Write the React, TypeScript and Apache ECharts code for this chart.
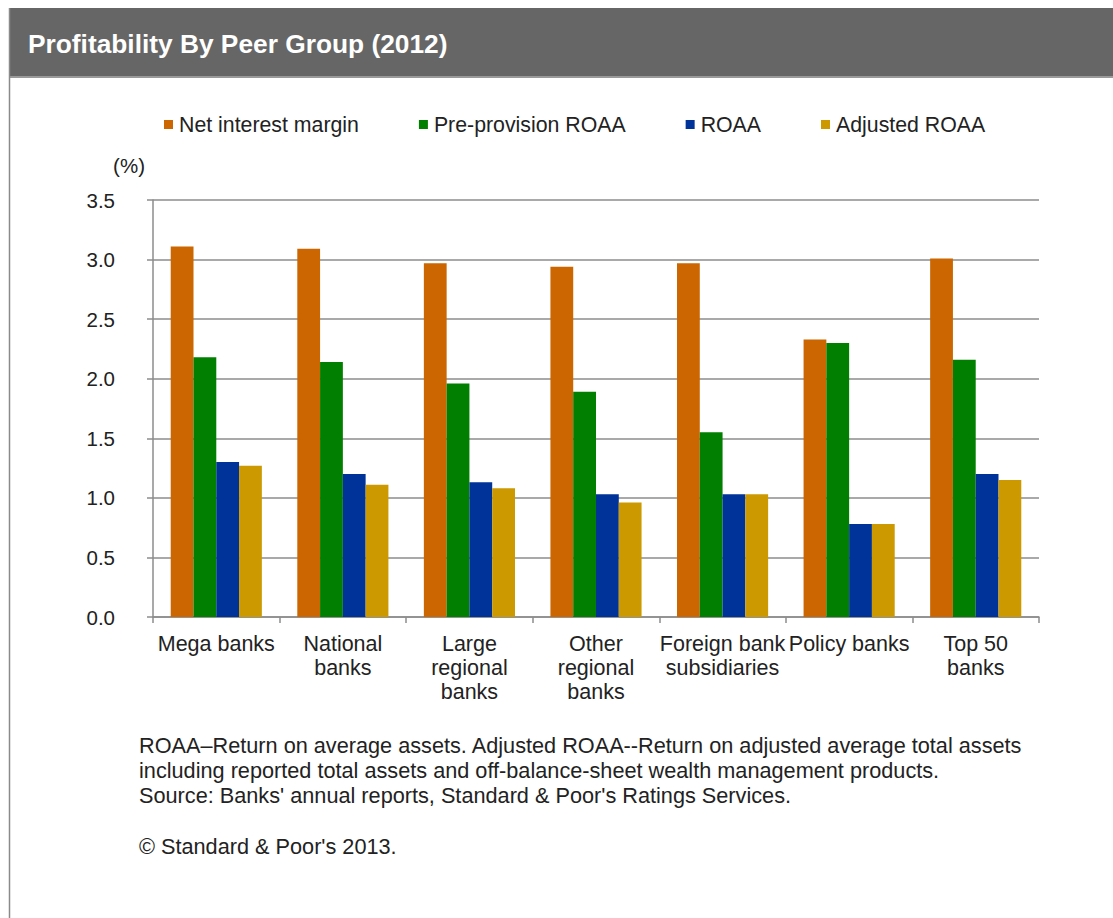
import React, { useEffect, useRef } from "react";
import * as echarts from "echarts";

// Peer groups along the x axis
const categories = [
  "Mega banks",
  "National\nbanks",
  "Large\nregional\nbanks",
  "Other\nregional\nbanks",
  "Foreign bank\nsubsidiaries",
  "Policy banks",
  "Top 50\nbanks",
];

// Ratios in percent, 2012
const netInterestMargin = [3.11, 3.09, 2.97, 2.94, 2.97, 2.33, 3.01];
const preProvisionRoaa = [2.18, 2.14, 1.96, 1.89, 1.55, 2.3, 2.16];
const roaa = [1.3, 1.2, 1.13, 1.03, 1.03, 0.78, 1.2];
const adjustedRoaa = [1.27, 1.11, 1.08, 0.96, 1.03, 0.78, 1.15];

const seriesNames = ["Net interest margin", "Pre-provision ROAA", "ROAA", "Adjusted ROAA"];
const seriesColors = ["#CC6600", "#007F00", "#003399", "#CC9900"];

const title = "Profitability By Peer Group (2012)";
const footnotes = [
  "ROAA\u2013Return on average assets. Adjusted ROAA--Return on adjusted average total assets",
  "including reported total assets and off-balance-sheet wealth management products.",
  "Source: Banks' annual reports, Standard & Poor's Ratings Services.",
];
const copyright = "\u00A9 Standard & Poor's 2013.";

const FONT = "'Liberation Sans', Arial, sans-serif";

export default function App() {
  const ref = useRef<HTMLDivElement>(null);

  useEffect(() => {
    if (!ref.current) return;
    const chart = echarts.init(ref.current, null, { renderer: "svg" });
    const values = [netInterestMargin, preProvisionRoaa, roaa, adjustedRoaa];

    chart.setOption({
      animation: false,
      backgroundColor: "#ffffff",
      textStyle: { fontFamily: FONT },
      grid: { left: 153, right: 74, top: 200, bottom: 301, containLabel: false },
      legend: {
        left: 159,
        top: 109,
        itemWidth: 9,
        itemHeight: 9,
        itemGap: 60,
        icon: "rect",
        data: seriesNames,
        textStyle: { fontSize: 21.3, color: "#222", fontFamily: FONT, padding: [0, 0, 0, 1] },
      },
      xAxis: {
        type: "category",
        data: categories,
        axisLine: { show: true, lineStyle: { color: "#8c8c8c", width: 1.5 } },
        axisTick: { show: true, length: 6, alignWithLabel: false, lineStyle: { color: "#8c8c8c", width: 1.5 } },
        axisLabel: {
          interval: 0,
          margin: 15,
          fontSize: 21.5,
          lineHeight: 24,
          color: "#222",
          fontFamily: FONT,
        },
      },
      yAxis: {
        type: "value",
        min: 0,
        max: 3.5,
        interval: 0.5,
        name: "(%)",
        nameLocation: "end",
        nameGap: 24,
        nameTextStyle: { fontSize: 20.5, color: "#222", align: "right", padding: [0, 8, 0, 0], fontFamily: FONT },
        axisLine: { show: true, lineStyle: { color: "#8c8c8c", width: 1.5 } },
        axisTick: { show: true, length: 6, lineStyle: { color: "#8c8c8c", width: 1.5 } },
        axisLabel: {
          margin: 38,
          fontSize: 20.5,
          color: "#222",
          fontFamily: FONT,
          formatter: (v: number) => v.toFixed(1),
        },
        splitLine: { show: true, lineStyle: { color: "#8c8c8c", width: 1.5 } },
      },
      series: seriesNames.map((name, i) => ({
        name,
        type: "bar",
        data: values[i],
        barGap: "0%",
        barCategoryGap: "28%",
        itemStyle: { color: seriesColors[i] },
      })),
      graphic: [
        {
          type: "rect",
          left: 9,
          top: 8,
          shape: { width: 1104, height: 69 },
          style: { fill: "#666666" },
          silent: true,
        },
        {
          type: "line",
          shape: { x1: 9, y1: 77, x2: 1113, y2: 77 },
          style: { stroke: "#9a9a9a", lineWidth: 2 },
          silent: true,
        },
        {
          type: "line",
          shape: { x1: 9.5, y1: 8, x2: 9.5, y2: 918 },
          style: { stroke: "#8a8a8a", lineWidth: 1.5 },
          silent: true,
        },
        {
          type: "text",
          left: 28,
          top: 31,
          style: { text: title, fill: "#ffffff", font: `bold 26.3px ${FONT}` },
          silent: true,
        },
        ...footnotes.map((t, i) => ({
          type: "text",
          left: 139,
          top: 734 + i * 25,
          style: { text: t, fill: "#222", font: `21.7px ${FONT}` },
          silent: true,
        })),
        {
          type: "text",
          left: 139,
          top: 835,
          style: { text: copyright, fill: "#222", font: `21.7px ${FONT}` },
          silent: true,
        },
      ],
    });

    return () => chart.dispose();
  }, []);

  return (
    <div
      ref={ref}
      style={{ position: "absolute", left: 0, top: 0, width: 1113, height: 918, background: "#fff" }}
    />
  );
}
